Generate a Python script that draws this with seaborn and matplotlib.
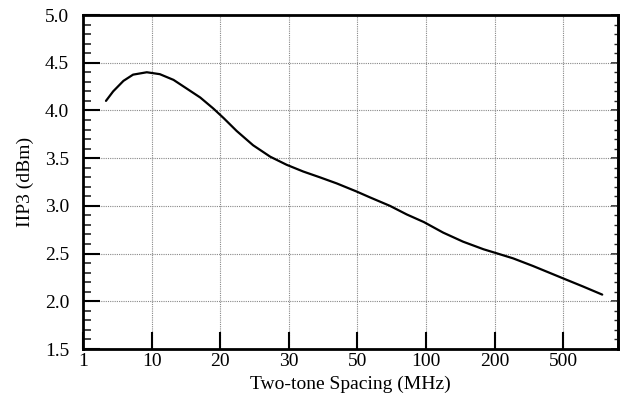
import numpy as np
import pandas as pd
import matplotlib
matplotlib.use("Agg")
import matplotlib.pyplot as plt
from matplotlib.ticker import MultipleLocator, FixedLocator, FormatStrFormatter
import seaborn as sns

# Tick labels (category positions 0..7, evenly spaced)
x_tick_labels = ["1", "10", "20", "30", "50", "100", "200", "500"]

# Curve: position along the evenly spaced axis, IIP3 (dBm)
pos = [0.335, 0.44, 0.59, 0.73, 0.93, 1.12, 1.32, 1.51, 1.71, 1.90, 2.05, 2.24,
       2.48, 2.73, 2.97, 3.21, 3.45, 3.70, 3.99, 4.18, 4.475, 4.72, 4.97, 5.25,
       5.54, 5.84, 6.00, 6.27, 6.56, 7.00, 7.29, 7.57]
iip3 = [4.10, 4.20, 4.31, 4.375, 4.40, 4.38, 4.32, 4.23, 4.135, 4.02, 3.92, 3.785,
        3.635, 3.515, 3.43, 3.36, 3.30, 3.235, 3.15, 3.09, 3.00, 2.91, 2.83, 2.72,
        2.625, 2.545, 2.51, 2.45, 2.37, 2.24, 2.155, 2.07]

sns.set_theme(style="white")
plt.rcParams['font.family'] = ['Liberation Serif', 'DejaVu Serif']

fig = plt.figure(figsize=(6.26, 3.99), dpi=100)
ax = fig.add_axes([83/626, 1-349/399, (618-83)/626, (349-15)/399])

df = pd.DataFrame({"pos": pos, "iip3": iip3})
sns.lineplot(data=df, x="pos", y="iip3", ax=ax, color="black", linewidth=1.6)

ax.set_xlim(0, 7.8)
ax.set_ylim(1.5, 5.0)
ax.xaxis.set_major_locator(FixedLocator(range(len(x_tick_labels))))
ax.set_xticklabels(x_tick_labels)
ax.yaxis.set_major_locator(MultipleLocator(0.5))
ax.yaxis.set_minor_locator(MultipleLocator(0.1))
ax.yaxis.set_major_formatter(FormatStrFormatter('%.1f'))

ax.grid(True, which='major', linestyle=(0, (1, 1)), color='#888888', linewidth=0.8)
ax.tick_params(axis='x', which='major', direction='in', length=12, width=1.5,
               labelsize=14, colors='black', pad=3, bottom=True, top=False)
ax.tick_params(axis='y', which='major', direction='in', length=12, width=1.5,
               labelsize=14, colors='black', pad=10, left=True, right=False)
ax.tick_params(axis='y', which='minor', direction='in', length=6, width=1.2,
               left=True, right=False)

sec = ax.secondary_yaxis('right')
sec.yaxis.set_major_locator(MultipleLocator(0.5))
sec.yaxis.set_minor_locator(MultipleLocator(0.1))
sec.tick_params(axis='y', which='major', direction='in', length=5, width=1.2, labelright=False)
sec.tick_params(axis='y', which='minor', direction='in', length=3, width=1.0)
sec.spines['right'].set_linewidth(2)

for s in ax.spines.values():
    s.set_linewidth(2)
    s.set_color('black')

ax.set_xlabel("Two-tone Spacing (MHz)", fontsize=14, color='black', labelpad=4)
ax.set_ylabel("IIP3 (dBm)", fontsize=14, color='black', labelpad=8)

fig.savefig("out.png", dpi=100, facecolor='white')
